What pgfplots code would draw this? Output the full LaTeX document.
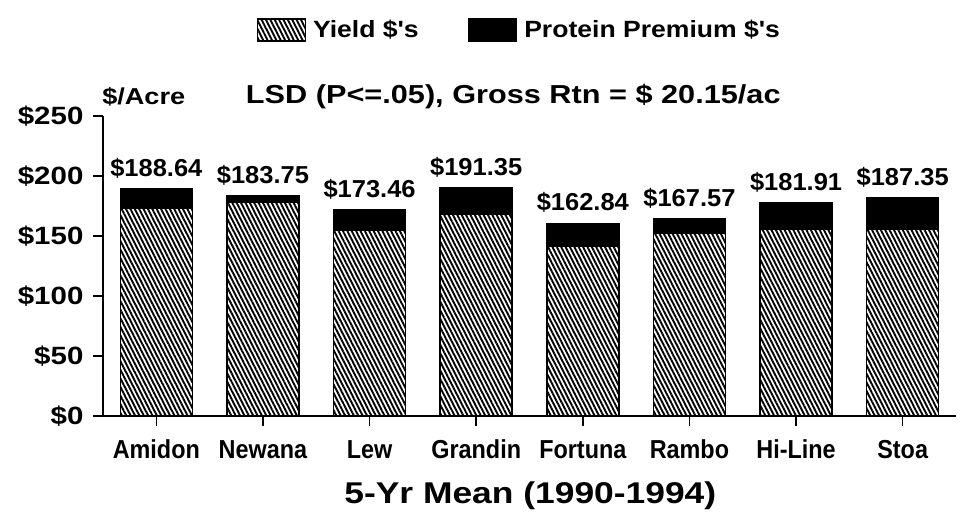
\documentclass[border=0pt]{standalone}
\usepackage{pgfplots}
\pgfplotsset{compat=1.18}
\usepackage{pgfplotstable}
\usepackage{fontspec}
\setmainfont{Liberation Sans}
\newfontfamily\fwide{Liberation Sans}[FakeStretch=1.18]
\newfontfamily\fleg{Liberation Sans}[FakeStretch=1.13]
\newfontfamily\fval{Liberation Sans}[FakeStretch=1.04]
\newfontfamily\fcat{Liberation Sans}[FakeStretch=0.9]
\usetikzlibrary{patterns.meta}
\pgfplotsset{boxlegend/.style={legend image code/.code={\draw[##1] (0pt,-11pt) rectangle (48pt,11pt);}}}

\pgfplotstableread{
x yield prot total
0 173   16   188.64
1 178   5.5  183.75
2 155   17   173.46
3 168   22   191.35
4 141.5 19   162.84
5 152.5 11.5 167.57
6 156   21.5 181.91
7 156   26   187.35
}\datatable

\begin{document}
\begin{tikzpicture}[x=1pt,y=1pt]
\useasboundingbox (0,0) rectangle (960,520);
\begin{axis}[
  at={(103pt,104pt)}, anchor=south west,
  scale only axis, width=853pt, height=300pt,
  xmin=-0.5, xmax=7.5, ymin=0, ymax=250,
  ybar stacked, bar width=72pt,
  axis x line*=bottom, axis y line*=left,
  axis line style={line width=2pt},
  xtick={0,...,7},
  xticklabels={Amidon,Newana,Lew,Grandin,Fortuna,Rambo,Hi-Line,Stoa},
  ytick={0,50,...,250},
  yticklabels={\$0,\$50,\$100,\$150,\$200,\$250},
  tick align=outside,
  major tick length=10pt,
  tick style={line width=1.5pt, black},
  xticklabel style={anchor=base, yshift=-32pt, font={\fontsize{26}{30}\selectfont\fcat\bfseries}},
  yticklabel style={xshift=-6pt, font={\fontsize{25}{30}\selectfont\fwide\bfseries}},
  xlabel={5-Yr Mean (1990-1994)},
  xlabel style={at={(axis description cs:0.501,-0.29)}, anchor=base,
    font={\fontsize{30}{34}\selectfont\fwide\bfseries}},
  legend style={at={(0.488,1.287)}, anchor=center, draw=none,
    legend columns=2,
    font={\fontsize{23.5}{26}\selectfont\fleg\bfseries},
    /tikz/every odd column/.append style={column sep=5pt},
    /tikz/every even column/.append style={column sep=47pt}},
  clip=false,
]
\addplot[draw=black, line width=1.5pt, fill=white,
  postaction={pattern={Lines[angle=-63, distance=3.9pt, line width=1.9pt]}, pattern color=black},
  boxlegend]
  table[x=x, y=yield] {\datatable};
\addlegendentry{Yield \$'s}
\addplot[draw=black, line width=1.5pt, fill=black, boxlegend]
  table[x=x, y=prot] {\datatable};
\addlegendentry{Protein Premium \$'s}
\node[anchor=base west, font={\fontsize{23}{26}\selectfont\fwide\bfseries}]
  at (rel axis cs:-0.005,1.04) {\$/Acre};
\node[anchor=base, font={\fontsize{26}{30}\selectfont\fwide\bfseries}]
  at (rel axis cs:0.481,1.043) {LSD (P<=.05), Gross Rtn = \$ 20.15/ac};
\end{axis}
\begin{axis}[
  at={(103pt,104pt)}, anchor=south west,
  scale only axis, width=853pt, height=300pt,
  xmin=-0.5, xmax=7.5, ymin=0, ymax=250,
  hide axis, clip=false,
  every node near coord/.style={anchor=base, yshift=12.5pt, black,
    font={\fontsize{24.5}{28}\selectfont\fval\bfseries}},
]
\addplot[only marks, mark=none, point meta=explicit symbolic,
  nodes near coords={\$\pgfplotspointmeta}]
  table[x=x, y expr=\thisrow{yield}+\thisrow{prot}, meta=total] {\datatable};
\end{axis}
\end{tikzpicture}
\end{document}
